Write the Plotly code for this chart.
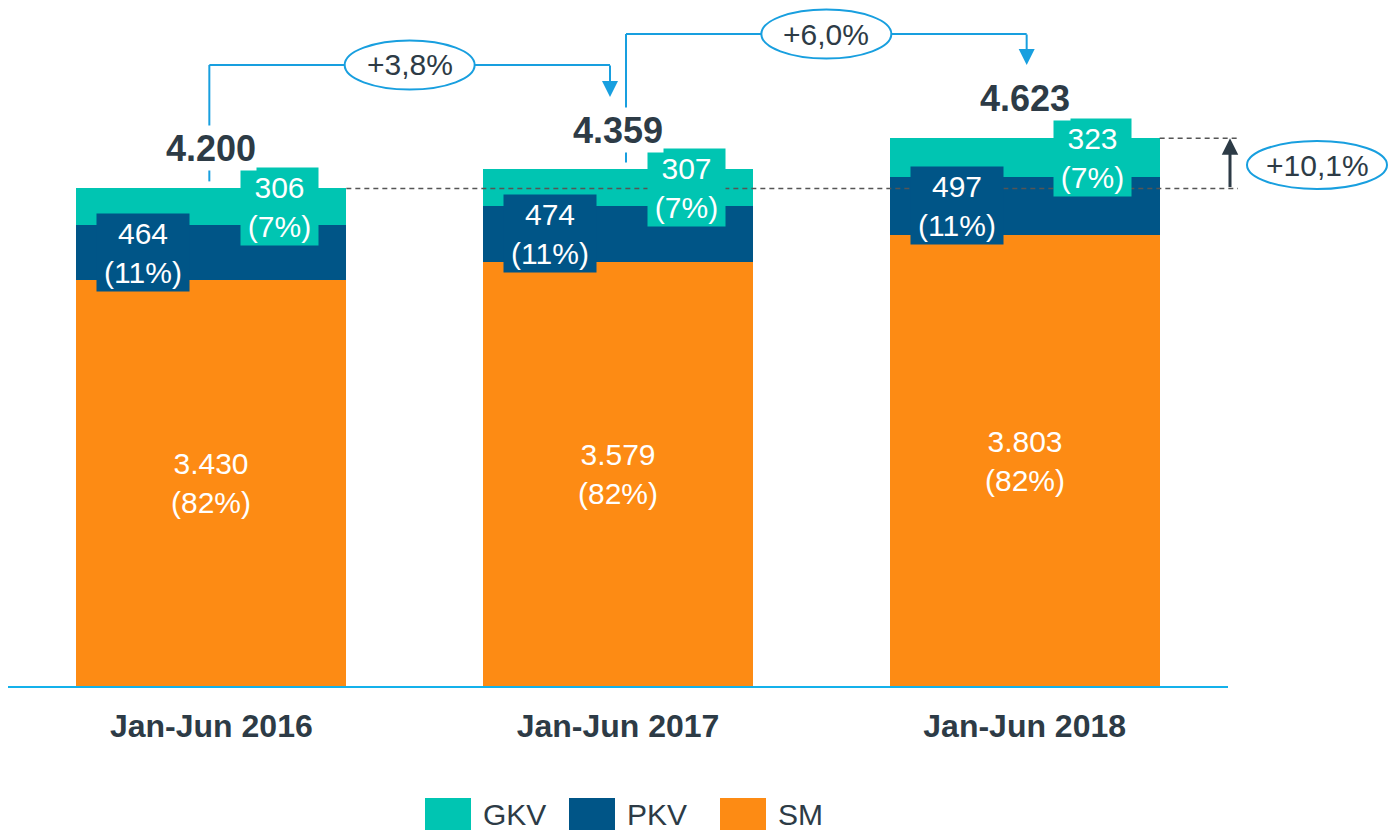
import plotly.graph_objects as go

# ---------------- data ----------------
categories = ["Jan-Jun 2016", "Jan-Jun 2017", "Jan-Jun 2018"]
sm_values = [3430, 3579, 3803]
pkv_values = [464, 474, 497]
gkv_values = [306, 307, 323]
totals = [4200, 4359, 4623]
sm_shares = ["82%", "82%", "82%"]
pkv_shares = ["11%", "11%", "11%"]
gkv_shares = ["7%", "7%", "7%"]
growth_labels = ["+3,8%", "+6,0%"]
growth_total_label = "+10,1%"
legend_names = ["GKV", "PKV", "SM"]

# ---------------- styles ----------------
C_GKV = "#00C5B2"
C_PKV = "#005587"
C_SM = "#FD8B14"
TEXT = "#2D3B46"
BLUE = "#189FDF"
AXIS = "#14B1EB"
FONT = "Liberation Sans, Arial, sans-serif"

W, H = 1388, 830
L, R, T, B = 8, 160, 0, 144
PW, PH = W - L - R, H - T - B
YMAX = 5790
BAR_W = 0.664


def fmt(v):
    return f"{v:,}".replace(",", ".")


def px_x(p):
    return (p - L) / PW


def px_y(p):
    return 1 - (p - T) / PH


def val_py(v):
    return T + PH * (1 - v / YMAX)


def idx_px(i):
    return L + (i + 0.5) * PW / 3


xs = list(range(len(categories)))

fig = go.Figure()
for name, vals, col in [("SM", sm_values, C_SM), ("PKV", pkv_values, C_PKV), ("GKV", gkv_values, C_GKV)]:
    fig.add_trace(go.Bar(x=xs, y=vals, name=name, marker=dict(color=col, line=dict(width=0)),
                         width=BAR_W, showlegend=False, hoverinfo="skip"))

ann = []
shapes = []
C = dict(xanchor="center", yanchor="middle")

for i in xs:
    ann.append(dict(x=i, y=sm_values[i] / 2, xref="x", yref="y", showarrow=False,
                    text=f"{fmt(sm_values[i])}<br>({sm_shares[i]})",
                    font=dict(family=FONT, size=30, color="white"), **C))
    ann.append(dict(x=i, y=sm_values[i] + pkv_values[i] / 2, xref="x", yref="y", xshift=-68,
                    showarrow=False, text=f"{fmt(pkv_values[i])}<br>({pkv_shares[i]})",
                    font=dict(family=FONT, size=30, color="white"),
                    bgcolor=C_PKV, width=92, height=77, borderpad=0, **C))
    ann.append(dict(x=i, y=sm_values[i] + pkv_values[i] + gkv_values[i] / 2, xref="x", yref="y",
                    xshift=68, showarrow=False,
                    text=f"{fmt(gkv_values[i])}<br>({gkv_shares[i]})",
                    font=dict(family=FONT, size=30, color="white"),
                    bgcolor=C_GKV, width=77, height=77, borderpad=0, **C))
    ann.append(dict(x=i, y=totals[i], xref="x", yref="y", yshift=40, showarrow=False,
                    text=f"<b>{fmt(totals[i])}</b>",
                    font=dict(family=FONT, size=36, color=TEXT),
                    bgcolor="white", height=44, borderpad=0, **C))

# dashed reference lines
for x_start, val in [(idx_px(0) + 135, totals[0]), (idx_px(2) + 135, totals[2])]:
    shapes.append(dict(type="line", xref="paper", yref="y", layer="above",
                       x0=px_x(x_start), x1=px_x(1238), y0=val, y1=val,
                       line=dict(color="#555555", width=1.5, dash="5px,4px")))

# growth connectors
levels = [65, 34]
tips = [97, 65]
starts = [idx_px(0) - 2, idx_px(1) + 8]
ends = [idx_px(1) - 8, idx_px(2) + 2]
for k in range(2):
    x0, x1, lv = starts[k], ends[k], levels[k]
    shapes.append(dict(type="line", xref="paper", yref="paper", layer="above",
                       x0=px_x(x0), x1=px_x(x0), y0=px_y(lv), y1=px_y(val_py(totals[k]) - 7),
                       line=dict(color=BLUE, width=2)))
    shapes.append(dict(type="line", xref="paper", yref="paper", layer="above",
                       x0=px_x(x0), x1=px_x(x1), y0=px_y(lv), y1=px_y(lv),
                       line=dict(color=BLUE, width=2)))
    ann.append(dict(x=px_x(x1), y=px_y(tips[k]), xref="paper", yref="paper", text="",
                    showarrow=True, ax=0, ay=lv - tips[k] - 1, arrowhead=2, arrowsize=1.6,
                    arrowwidth=2, arrowcolor=BLUE, standoff=0))
    cx = (x0 + x1) / 2
    shapes.append(dict(type="circle", xref="paper", yref="paper", layer="above",
                       x0=px_x(cx - 65), x1=px_x(cx + 65), y0=px_y(lv - 24.5), y1=px_y(lv + 24.5),
                       fillcolor="white", line=dict(color=BLUE, width=2)))
    ann.append(dict(x=px_x(cx), y=px_y(lv), xref="paper", yref="paper", showarrow=False,
                    text=growth_labels[k], font=dict(family=FONT, size=30, color=TEXT), **C))

# total growth arrow and ellipse
ann.append(dict(x=px_x(1230), y=totals[2], xref="paper", yref="y", text="", showarrow=True,
                ax=0, ay=val_py(totals[0]) - val_py(totals[2]), arrowhead=2, arrowsize=1.1,
                arrowwidth=3, arrowcolor=TEXT, standoff=0))
shapes.append(dict(type="circle", xref="paper", yref="paper", layer="above",
                   x0=px_x(1247), x1=px_x(1387), y0=px_y(141), y1=px_y(189),
                   fillcolor="white", line=dict(color=BLUE, width=2)))
ann.append(dict(x=px_x(1317), y=px_y(165), xref="paper", yref="paper", showarrow=False,
                text=growth_total_label, font=dict(family=FONT, size=30, color=TEXT), **C))

# manual legend
leg_x = [425, 569, 720]
leg_cols = [C_GKV, C_PKV, C_SM]
for k, name in enumerate(legend_names):
    shapes.append(dict(type="rect", xref="paper", yref="paper", layer="above",
                       x0=px_x(leg_x[k]), x1=px_x(leg_x[k] + 46), y0=px_y(798), y1=px_y(846),
                       fillcolor=leg_cols[k], line=dict(width=0)))
    ann.append(dict(x=px_x(leg_x[k] + 56), y=px_y(815), xref="paper", yref="paper",
                    showarrow=False, xanchor="left", yanchor="middle", text=name,
                    font=dict(family=FONT, size=30, color=TEXT)))

fig.update_layout(
    width=W, height=H,
    margin=dict(l=L, r=R, t=T, b=B, pad=0),
    barmode="stack",
    plot_bgcolor="white", paper_bgcolor="white",
    showlegend=False,
    annotations=ann,
    shapes=shapes,
    xaxis=dict(range=[-0.5, 2.5], tickvals=xs, ticktext=categories, showline=True,
               linecolor=AXIS, linewidth=2, showgrid=False, zeroline=False,
               ticks="outside", ticklen=11, tickcolor="rgba(0,0,0,0)",
               tickfont=dict(family=FONT, size=32, color=TEXT, weight="bold"), fixedrange=True),
    yaxis=dict(range=[0, YMAX], visible=False, fixedrange=True),
)

fig.write_html("out.html", config={"displayModeBar": False},
               post_script="document.body.style.margin='0';document.body.style.overflow='hidden';")
